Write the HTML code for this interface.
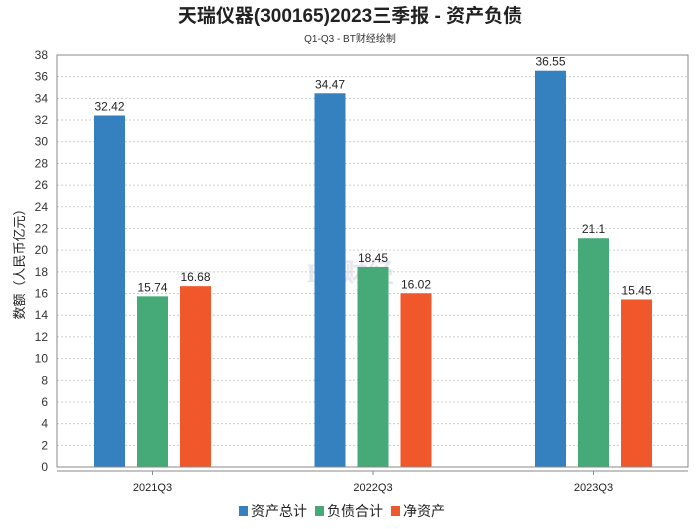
<!DOCTYPE html>
<html><head><meta charset="utf-8"><style>
body{margin:0;background:#fff;font-family:"Liberation Sans","Noto Sans CJK SC",sans-serif}
</style></head><body>
<svg id="c" width="700" height="524" xmlns="http://www.w3.org/2000/svg">
<text x="350" y="22" text-anchor="middle" font-size="19" font-weight="bold" fill="#222">天瑞仪器(300165)2023三季报 - 资产负债</text>
<text x="350" y="42" text-anchor="middle" font-size="10" fill="#333">Q1-Q3 - BT财经绘制</text>
<text x="350" y="282" text-anchor="middle" font-size="26" font-weight="bold" fill="#e6e6ee" font-family="Liberation Serif,serif">BT财经</text>
<g id="grid"></g><g id="bars"></g>
<rect x="57" y="55" width="631" height="412" fill="none" stroke="#888"/>
<line x1="57" y1="471" x2="688" y2="471" stroke="#888"/>
<text transform="translate(24,261) rotate(-90)" text-anchor="middle" font-size="13" fill="#222">数额（人民币亿元）</text>
<g id="legend"></g>
</svg>
<script>
const categories=["2021Q3","2022Q3","2023Q3"];
const seriesNames=["资产总计","负债合计","净资产"];
const totalAssets=[32.42,34.47,36.55];
const totalLiab=[15.74,18.45,21.1];
const netAssets=[16.68,16.02,15.45];
const yTicks=[0,2,4,6,8,10,12,14,16,18,20,22,24,26,28,30,32,34,36,38];
const colors=["#3580bf","#45aa77","#f0572a"];
const series=[totalAssets,totalLiab,netAssets];
const NS="http://www.w3.org/2000/svg";
const y=v=>467-v*(412/38);
const x=i=>152.5+i*220.5;
function mk(t,a,p){const e=document.createElementNS(NS,t);for(const k in a)e.setAttribute(k,a[k]);p.appendChild(e);return e;}
const g=document.getElementById('grid'),b=document.getElementById('bars'),L=document.getElementById('legend');
yTicks.forEach(v=>{
 const l=mk('line',{x1:57,x2:688,y1:y(v),y2:y(v),stroke:'#ccc','stroke-dasharray':'2,2'},g);
 
 
 const t=mk('text',{x:48,y:y(v)+4,'text-anchor':'end','font-size':12,fill:'#333'},g);
 t.textContent=v;
 
 
});
categories.forEach((c,i)=>{
 const tk=mk('line',{x1:x(i),x2:x(i),y1:471,y2:475,stroke:'#888'},g);
 
 
 const t=mk('text',{x:x(i),y:491,'text-anchor':'middle','font-size':11,fill:'#222'},g);
 t.textContent=c;
 
 
 series.forEach((s,j)=>{
  const cx=x(i)+(j-1)*43;
  const r=mk('rect',{x:cx-15.5,y:y(s[i]),width:31,height:467-y(s[i]),fill:colors[j]},b);
  
  
  const t2=mk('text',{x:cx,y:y(s[i])-5,'text-anchor':'middle','font-size':12,fill:'#222'},b);
  t2.textContent=s[i];
  
  
 });
});
let lx=239;
seriesNames.forEach((n,j)=>{
 const r=mk('rect',{x:lx,y:506,width:9,height:10,fill:colors[j]},L);
 
 
 const t=mk('text',{x:lx+12,y:516,'font-size':14,fill:'#222'},L);
 t.textContent=n;
 
 
 lx+=12+n.length*14+8;
});
</script>
</body></html>
